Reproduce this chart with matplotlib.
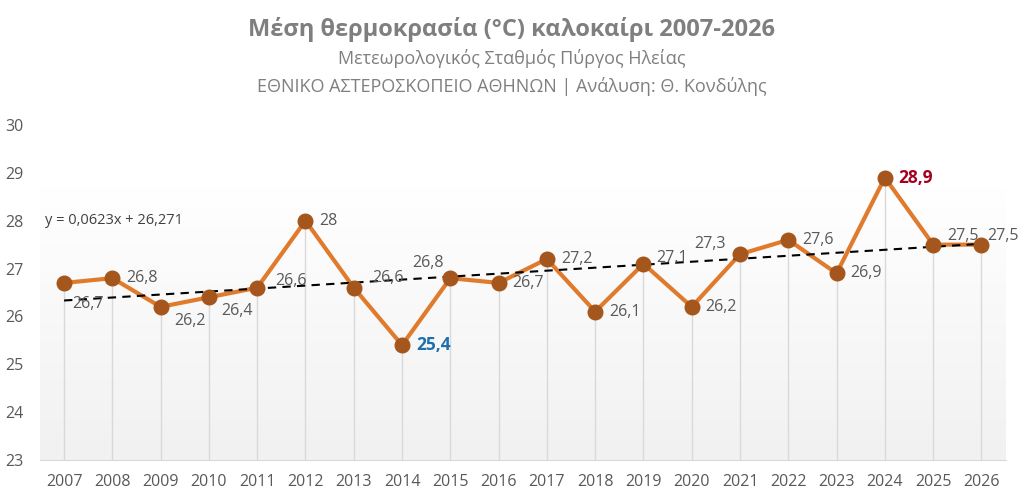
import numpy as np
import matplotlib.pyplot as plt

plt.rcParams['font.family'] = ['Open Sans', 'DejaVu Sans']

years = list(range(2007, 2027))
temps = [26.7, 26.8, 26.2, 26.4, 26.6, 28.0, 26.6, 25.4, 26.8, 26.7,
         27.2, 26.1, 27.1, 26.2, 27.3, 27.6, 26.9, 28.9, 27.5, 27.5]
labels = [f'{t:g}'.replace('.', ',') for t in temps]

# label offsets in points (dx, dy)
offs = {2007: (6, -15), 2009: (10, -10), 2010: (9, -10), 2011: (13, 5),
        2013: (13, 7), 2015: (-5, 11), 2019: (9, 4), 2021: (-10, 7),
        2025: (10, 6), 2026: (4, 6)}

fig = plt.figure(figsize=(10.24, 5), dpi=100)
ax = fig.add_axes([0.039, 0.08, 0.943, 0.67])
ax.set_xlim(2006.5, 2026.5)
ax.set_ylim(23, 30)

# light gradient background
grad = np.linspace(0, 1, 100).reshape(-1, 1)
ax.imshow(grad, extent=(0, 1, 0, 0.815), transform=ax.transAxes, aspect='auto',
          cmap=plt.matplotlib.colors.LinearSegmentedColormap.from_list('g', ['#f1f1f1', '#ffffff']),
          origin='lower', zorder=0)

ax.vlines(years, 23, temps, color='#d9d9d9', lw=1, zorder=1)

# trend line
xs = np.arange(1, len(temps) + 1)
k, b = np.polyfit(xs, temps, 1)
ax.plot(years, k * xs + b, ls=(0, (4, 3)), color='black', lw=1.5, zorder=3)
ax.text(2006.6, 28.0, 'y = 0,0623x + 26,271', fontsize=10.5, color='#404040', va='center')

ax.plot(years, temps, color='#E07B2E', lw=3, zorder=2)
ax.plot(years, temps, 'o', color='#A4561C', ms=10.5, zorder=4)

for y, t, lab in zip(years, temps, labels):
    dx, dy = offs.get(y, (10, 0))
    kw = dict(fontsize=11.5, color='#595959')
    if t == max(temps):
        kw = dict(fontsize=12.5, color='#A50021', fontweight='bold')
    elif t == min(temps):
        kw = dict(fontsize=12.5, color='#1F6FAE', fontweight='bold')
    ax.annotate(lab, (y, t), xytext=(dx, dy), textcoords='offset points',
                ha='left' if dx > 0 else 'right', va='center', zorder=5, **kw)

ax.set_xticks(years)
ax.set_xticklabels([str(y) for y in years])
ax.set_yticks(range(23, 31))
ax.tick_params(length=0, labelsize=11.5, colors='#595959')
ax.tick_params(axis='x', pad=10)
ax.tick_params(axis='y', pad=12)
for s in ['top', 'right', 'left']:
    ax.spines[s].set_visible(False)
ax.spines['bottom'].set_color('#d9d9d9')

fig.text(0.5, 0.94, 'Μέση θερμοκρασία (°C) καλοκαίρι 2007-2026', ha='center', va='center',
         fontsize=17, fontweight='bold', color='#7f7f7f')
fig.text(0.5, 0.884, 'Μετεωρολογικός Σταθμός Πύργος Ηλείας', ha='center', va='center',
         fontsize=13, color='#7f7f7f')
fig.text(0.5, 0.828, 'ΕΘΝΙΚΟ ΑΣΤΕΡΟΣΚΟΠΕΙΟ ΑΘΗΝΩΝ | Ανάλυση: Θ. Κονδύλης', ha='center', va='center',
         fontsize=13, color='#7f7f7f')

fig.savefig('out.png', dpi=100, facecolor='white')
